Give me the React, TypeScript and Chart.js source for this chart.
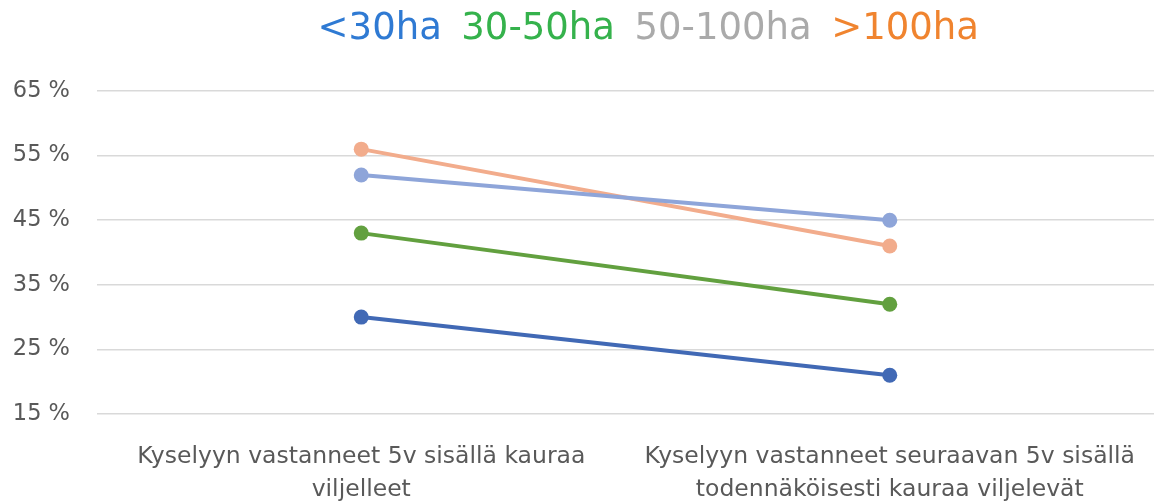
import React, { useEffect, useRef } from "react";
import { Chart, registerables } from "chart.js";

Chart.register(...registerables);

const categories: string[][] = [
  ["Kyselyyn vastanneet 5v sisällä kauraa", "viljelleet"],
  ["Kyselyyn vastanneet seuraavan 5v sisällä", "todennäköisesti kauraa viljelevät"],
];
const seriesNames = ["<30ha", "30-50ha", "50-100ha", ">100ha"];
const under30 = [30, 21];
const from30to50 = [43, 32];
const from50to100 = [52, 45];
const over100 = [56, 41];
const lineColors = ["#4169B5", "#62A03F", "#8EA5D9", "#F2AC8C"];
const titleColors = ["#2F7AD3", "#35B24C", "#AAAAAA", "#F0842F"];
const yTicks = [15, 25, 35, 45, 55, 65];

const legendShift = {
  id: "legendShift",
  afterLayout(chart: any) {
    const lg = chart.legend;
    if (lg) {
      lg.left += 62;
      lg.right += 62;
    }
  },
};

export default function App() {
  const ref = useRef<HTMLCanvasElement | null>(null);
  useEffect(() => {
    if (!ref.current) return;
    const values = [under30, from30to50, from50to100, over100];
    const chart = new Chart(ref.current, {
      type: "line",
      plugins: [legendShift],
      data: {
        labels: categories as any,
        datasets: values.map((v, i) => ({
          label: seriesNames[i],
          data: v,
          borderColor: lineColors[i],
          backgroundColor: lineColors[i],
          borderWidth: 4,
          pointRadius: 7.5,
          pointBorderWidth: 0,
          pointHoverRadius: 7.5,
          fill: false,
          tension: 0,
        })),
      },
      options: {
        animation: false,
        responsive: true,
        maintainAspectRatio: false,
        layout: { autoPadding: false, padding: { left: 0, right: 0, top: 10, bottom: 0 } },
        plugins: {
          tooltip: { enabled: false },
          title: {
            display: true,
            text: "",
            font: { size: 10, lineHeight: 1 },
            padding: { top: 0, bottom: 23 },
          },
          legend: {
            display: true,
            position: "top",
            align: "center",
            weight: 3000,
            onClick: () => {},
            labels: {
              boxWidth: 0,
              boxHeight: 0,
              padding: 1,
              font: { family: "DejaVu Sans", size: 37 },
              generateLabels: () =>
                seriesNames.map((n, i) => ({
                  text: n,
                  fontColor: titleColors[i],
                  fillStyle: "rgba(0,0,0,0)",
                  strokeStyle: "rgba(0,0,0,0)",
                  lineWidth: 0,
                  hidden: false,
                  datasetIndex: i,
                })),
            },
          } as any,
        },
        scales: {
          x: {
            type: "category",
            offset: true,
            afterFit: (s: any) => {
              s.height = 89;
              s.paddingLeft = 0;
              s.paddingRight = 0;
            },
            grid: { display: false, drawTicks: false },
            border: { display: false },
            ticks: {
              color: "#595959",
              font: { family: "DejaVu Sans", size: 23.5, lineHeight: 1.42 },
              padding: 26,
              maxRotation: 0,
              autoSkip: false,
            },
          },
          y: {
            min: 15,
            max: 65,
            afterFit: (s: any) => {
              s.width = 97;
            },
            afterBuildTicks: (s: any) => {
              s.ticks = yTicks.map((v) => ({ value: v }));
            },
            grid: { color: "#D9D9D9", lineWidth: 1.5, drawTicks: false },
            border: { display: false },
            ticks: {
              color: "#595959",
              font: { family: "DejaVu Sans", size: 22.5 },
              padding: 27,
              callback: (v: any) => `${v} %`,
            },
          },
        },
      },
    });
    return () => chart.destroy();
  }, []);
  return (
    <div style={{ position: "fixed", left: 0, top: 0, width: 1154, height: 503, background: "#fff" }}>
      <canvas ref={ref} />
    </div>
  );
}
